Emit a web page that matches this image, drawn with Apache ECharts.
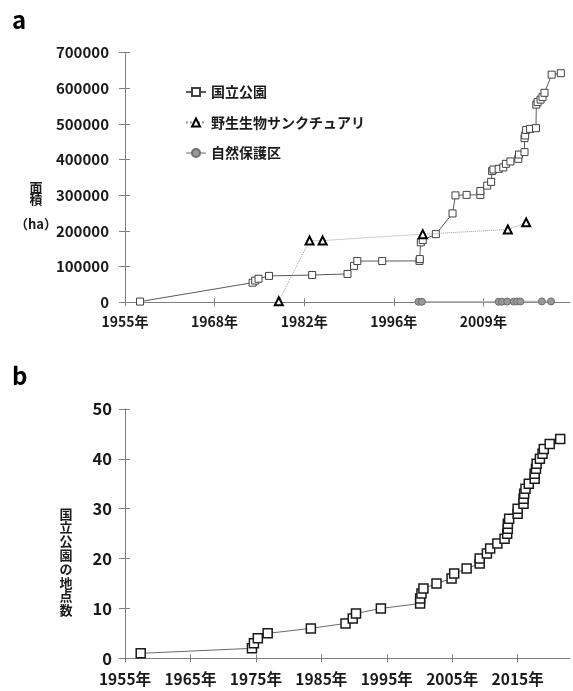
<!DOCTYPE html>
<html><head><meta charset="utf-8">
<script src="https://cdn.jsdelivr.net/npm/echarts@6/dist/echarts.min.js"></script>
<style>html,body{margin:0;padding:0;background:#fff}#c{width:573px;height:691px}</style>
</head><body><div id="c"></div>
<script>
// ---- Panel a: area (ha) ----
const parkAreaYears = [1957.3, 1974.5, 1974.9, 1975.4, 1977.0, 1983.6, 1989.0, 1990.0, 1990.5, 1994.3,
  2000.0, 2000.05, 2000.2, 2000.5, 2002.5, 2005.05, 2005.5, 2007.2, 2009.3, 2009.3,
  2010.35, 2010.95, 2011.1, 2011.3, 2012.1, 2012.8, 2013.2, 2013.9, 2015.1, 2015.2,
  2016.05, 2016.05, 2016.15, 2016.3, 2016.9, 2017.8, 2017.85, 2018.05, 2018.5, 2018.8,
  2019.1, 2020.2, 2021.6];
const parkAreaValues = [2000, 55000, 61000, 66000, 74000, 76400, 79500, 102000, 115600, 115600,
  116000, 121000, 168000, 174400, 191000, 249000, 299600, 301000, 301000, 312000,
  327000, 337500, 367600, 372000, 374000, 378000, 388000, 394700, 402000, 414000,
  420800, 460000, 467600, 483000, 486000, 488000, 554000, 561000, 568000, 575000,
  587000, 638000, 642000];
const sanctYears = [1978.5, 1983.2, 1985.2, 2000.5, 2013.5, 2016.3];
const sanctValues = [3000, 173000, 173000, 191000, 204000, 224000];
const reserveYears = [1999.85, 2000.37, 2012.1, 2012.6, 2013.4, 2014.4, 2014.9, 2015.4, 2018.7, 2020.1];
const reserveValues = [1500, 1500, 1500, 1800, 2000, 2000, 2200, 2200, 2500, 2500];
const topTickValues = [1955, 1968.69, 1982.38, 1996.07, 2009.76];
const topTickLabels = ['1955年', '1968年', '1982年', '1996年', '2009年'];

// ---- Panel b: number of national parks ----
const parkCountYears = [1957.4, 1974.4, 1974.7, 1975.3, 1976.8, 1983.4, 1988.7, 1989.8, 1990.3, 1994.1,
  2000.1, 2000.1, 2000.3, 2000.6, 2002.6, 2004.9, 2005.3, 2007.2, 2009.2, 2009.2,
  2010.3, 2010.8, 2011.9, 2013.0, 2013.4, 2013.5, 2013.5, 2013.7, 2015.0, 2015.0,
  2015.9, 2015.9, 2016.0, 2016.2, 2016.7, 2017.6, 2017.6, 2017.8, 2017.9, 2018.4,
  2018.8, 2019.0, 2019.9, 2021.5];
const parkCountValues = [1, 2, 3, 4, 5, 6, 7, 8, 9, 10,
  11, 12, 13, 14, 15, 16, 17, 18, 19, 20,
  21, 22, 23, 24, 25, 26, 27, 28, 29, 30,
  31, 32, 33, 34, 35, 36, 37, 38, 39, 40,
  41, 42, 43, 44];
const bottomTickValues = [1955, 1965, 1975, 1985, 1995, 2005, 2015];

const FONT = '"Noto Sans CJK JP", "Noto Sans", sans-serif';
const AX = '#7f7f7f';
const TXT = '#1a1a1a';
function pairs(xs, ys) { return xs.map((x, i) => [x, ys[i]]); }

function xAxes(grid, ticks, fmt, fontSize, margin) {
  return [
    { type: 'value', gridIndex: grid, min: 1955, max: 2023, position: 'bottom',
      axisLine: { show: true, onZero: false, lineStyle: { color: AX, width: 1 } },
      axisTick: { show: true, customValues: ticks, length: 4, inside: false, lineStyle: { color: AX } },
      axisLabel: { customValues: ticks, formatter: fmt, margin: margin,
        fontFamily: FONT, fontSize: fontSize, fontWeight: 'bold', color: TXT },
      splitLine: { show: false } },
    { type: 'value', gridIndex: grid, min: 1955, max: 2023, position: 'bottom',
      axisLine: { show: false, onZero: false },
      axisTick: { show: true, customValues: ticks, length: 4, inside: true, lineStyle: { color: AX } },
      axisLabel: { show: false }, splitLine: { show: false } }
  ];
}
function yAxes(grid, max, interval, fontSize, margin) {
  return [
    { type: 'value', gridIndex: grid, min: 0, max: max, interval: interval, position: 'left',
      axisLine: { show: true, onZero: false, lineStyle: { color: AX, width: 1 } },
      axisTick: { show: true, length: 6, inside: false, lineStyle: { color: AX } },
      axisLabel: { margin: margin, formatter: (v) => String(v),
        fontFamily: FONT, fontSize: fontSize, fontWeight: 'bold', color: TXT },
      splitLine: { show: false } },
    { type: 'value', gridIndex: grid, min: 0, max: max, interval: interval, position: 'left',
      axisLine: { show: false, onZero: false },
      axisTick: { show: true, length: 5, inside: true, lineStyle: { color: AX } },
      axisLabel: { show: false }, splitLine: { show: false } }
  ];
}

const chart = echarts.init(document.getElementById('c'));
chart.setOption({
  animation: false,
  backgroundColor: '#fff',
  textStyle: { fontFamily: FONT },
  grid: [
    { left: 125, top: 52.5, width: 445, height: 249.8 },
    { left: 125, top: 409, width: 445, height: 249.3 }
  ],
  xAxis: [
    ...xAxes(0, topTickValues, (v) => {
      let best = 0;
      topTickValues.forEach((t, i) => { if (Math.abs(t - v) < Math.abs(topTickValues[best] - v)) best = i; });
      return topTickLabels[best];
    }, 14, 12),
    ...xAxes(1, bottomTickValues, (v) => Math.round(v) + '年', 15.5, 13)
  ],
  yAxis: [
    ...yAxes(0, 700000, 100000, 15, 16),
    ...yAxes(1, 50, 10, 16.5, 13)
  ],
  legend: {
    orient: 'vertical', left: 180, top: 80, itemWidth: 20, itemHeight: 10, itemGap: 16.5,
    textStyle: { fontFamily: FONT, fontSize: 14, fontWeight: 'bold', color: TXT },
    data: ['国立公園', '野生生物サンクチュアリ', '自然保護区']
  },
  graphic: [
    { type: 'text', left: 12, top: 8, style: { text: 'a', font: 'bold 24px ' + FONT, fill: '#000' } },
    { type: 'text', left: 12, top: 364, style: { text: 'b', font: 'bold 24px ' + FONT, fill: '#000' } },
    { type: 'text', x: 36, y: 181, style: { text: '面\n積', font: 'bold 13px ' + FONT, fill: TXT,
      align: 'center', verticalAlign: 'top', lineHeight: 12 } },
    { type: 'text', x: 36, y: 218, style: { text: '（ha）', font: 'bold 13px ' + FONT, fill: TXT,
      align: 'center', verticalAlign: 'top' } },
    { type: 'text', x: 66, y: 562, style: { text: '国\n立\n公\n園\nの\n地\n点\n数', font: 'bold 13px ' + FONT,
      fill: TXT, align: 'center', verticalAlign: 'middle', lineHeight: 13.8 } }
  ],
  series: [
    { name: '国立公園', type: 'line', xAxisIndex: 0, yAxisIndex: 0, data: pairs(parkAreaYears, parkAreaValues),
      symbol: 'rect', symbolSize: 7, showAllSymbol: true,
      itemStyle: { color: '#fff', borderColor: '#404040', borderWidth: 1 },
      lineStyle: { color: '#5a5a5a', width: 1 }, z: 3 },
    { name: '野生生物サンクチュアリ', type: 'line', xAxisIndex: 0, yAxisIndex: 0, data: pairs(sanctYears, sanctValues),
      symbol: 'triangle', symbolSize: 8, showAllSymbol: true,
      itemStyle: { color: '#fff', borderColor: '#000', borderWidth: 2 },
      lineStyle: { color: '#9a9a9a', width: 1, type: 'dotted' }, z: 4 },
    { name: '自然保護区', type: 'line', xAxisIndex: 0, yAxisIndex: 0, data: pairs(reserveYears, reserveValues),
      symbol: 'circle', symbolSize: 7, showAllSymbol: true,
      itemStyle: { color: '#999', borderColor: '#6e6e6e', borderWidth: 1 },
      lineStyle: { color: '#b5b5b5', width: 1.5 }, z: 5 },
    { name: 'count', type: 'line', xAxisIndex: 2, yAxisIndex: 2, data: pairs(parkCountYears, parkCountValues),
      symbol: 'rect', symbolSize: 9, showAllSymbol: true,
      itemStyle: { color: '#fff', borderColor: '#1a1a1a', borderWidth: 1.5 },
      lineStyle: { color: '#6a6a6a', width: 1 }, z: 3 }
  ]
});
</script>
</body></html>
